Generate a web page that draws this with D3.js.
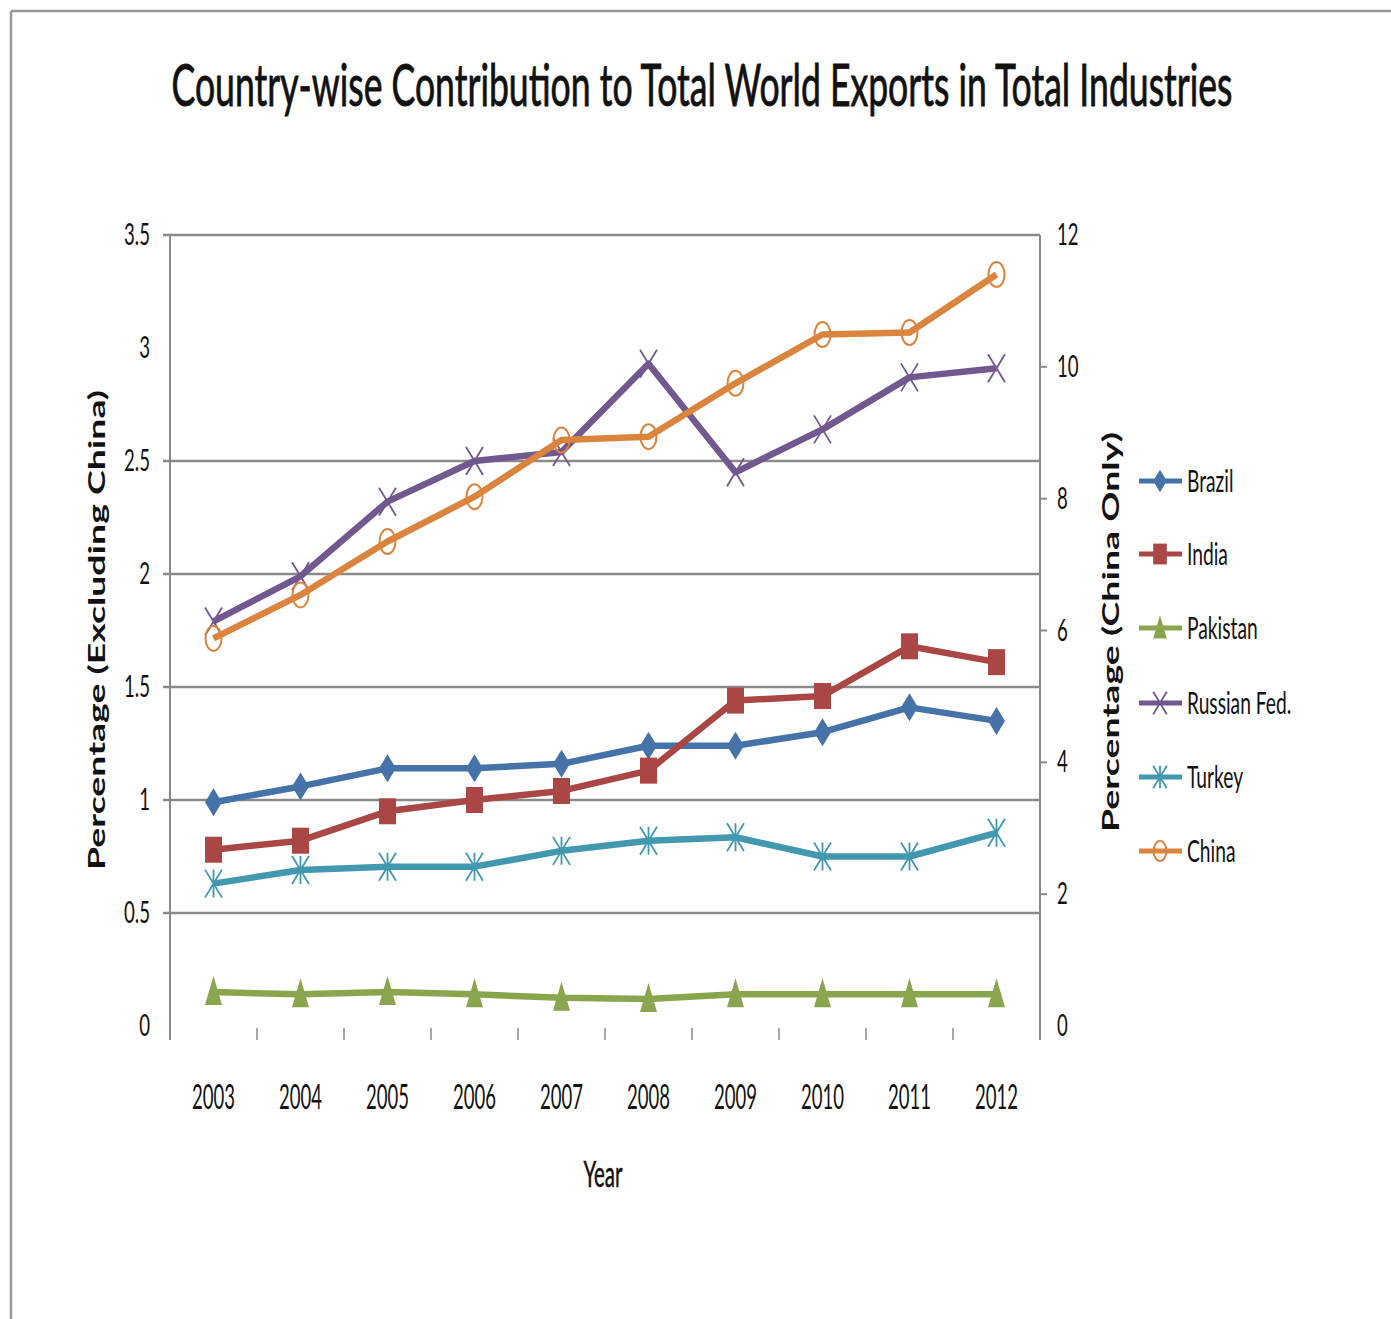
<!DOCTYPE html>
<html>
<head>
<meta charset="utf-8">
<script src="https://cdn.jsdelivr.net/npm/d3@7"></script>
<style>
  body { margin: 0; background: #fff; }
  text { font-family: Lato, "Open Sans", sans-serif; fill: #111; }
</style>
</head>
<body>
<svg id="chart" width="1391" height="1319"></svg>
<script>
// ---- data: share of total world exports (%) ----
const years = [2003, 2004, 2005, 2006, 2007, 2008, 2009, 2010, 2011, 2012];
const brazil   = [0.99, 1.06, 1.14, 1.14, 1.16, 1.24, 1.24, 1.30, 1.41, 1.35];
const india    = [0.78, 0.82, 0.95, 1.00, 1.04, 1.13, 1.44, 1.46, 1.68, 1.61];
const pakistan = [0.15, 0.14, 0.15, 0.14, 0.125, 0.12, 0.14, 0.14, 0.14, 0.14];
const russia   = [1.79, 1.99, 2.32, 2.50, 2.54, 2.93, 2.45, 2.64, 2.87, 2.91];
const turkey   = [0.63, 0.69, 0.705, 0.705, 0.775, 0.82, 0.835, 0.75, 0.75, 0.855];
const china    = [5.88, 6.54, 7.35, 8.03, 8.89, 8.94, 9.75, 10.49, 10.52, 11.40];

const leftTicks  = [0, 0.5, 1, 1.5, 2, 2.5, 3, 3.5];
const leftTickLabels = ["0", "0.5", "1", "1.5", "2", "2.5", "3", "3.5"];
const rightTicks = [0, 2, 4, 6, 8, 10, 12];
const gridValues = [0.5, 1, 1.5, 2, 2.5, 3.5];

const seriesNames  = ["Brazil", "India", "Pakistan", "Russian Fed.", "Turkey", "China"];
const seriesValues = [brazil, india, pakistan, russia, turkey, china];
const seriesAxis   = ["left", "left", "left", "left", "left", "right"];
const seriesColors = ["#4572A7", "#AA4643", "#89A54E", "#71588F", "#4198AF", "#DB843D"];
const seriesMarker = ["diamond", "square", "triangle", "cross", "asterisk", "circle"];

// ---- layout ----
const svg = d3.select("#chart");
const plot = { left: 170, right: 1040, top: 235, bottom: 1026 };
const gridColor = "#8a8a8a";

const x = d3.scaleBand().domain(years).range([plot.left, plot.right]).padding(0);
const cx = d => x(d) + x.bandwidth() / 2;
const yL = d3.scaleLinear().domain([0, 3.5]).range([plot.bottom, plot.top]);
const yR = d3.scaleLinear().domain([0, 12]).range([plot.bottom, plot.top]);

// squeeze text horizontally to a ratio of its natural width
function squeeze(sel, r) {
  sel.each(function () {
    const L = this.getComputedTextLength();
    this.setAttribute("textLength", L * r);
    this.setAttribute("lengthAdjust", "spacingAndGlyphs");
  });
}
function fitTo(sel, w) {
  sel.attr("textLength", w).attr("lengthAdjust", "spacingAndGlyphs");
}

// outer frame
svg.append("line").attr("x1", 11).attr("x2", 1391).attr("y1", 11).attr("y2", 11)
  .attr("stroke", "#9a9a9a").attr("stroke-width", 2.5);
svg.append("line").attr("x1", 11).attr("x2", 11).attr("y1", 11).attr("y2", 1319)
  .attr("stroke", "#9a9a9a").attr("stroke-width", 2.5);

// title, condensed horizontally to its full width
const titleG = svg.append("g");
const title = titleG.append("text")
  .attr("x", 0).attr("y", 0)
  .attr("text-anchor", "middle")
  .attr("font-size", 58)
  .attr("stroke", "#111").attr("stroke-width", 0.9)
  .text("Country-wise Contribution to Total World Exports in Total Industries");
const titleLen = title.node().getComputedTextLength();
titleG.attr("transform", `translate(702,106) scale(${1061 / titleLen},1)`);

// horizontal gridlines (extend left as tick marks)
svg.append("g").selectAll("line").data(gridValues).join("line")
  .attr("x1", plot.left - 7).attr("x2", plot.right)
  .attr("y1", d => yL(d)).attr("y2", d => yL(d))
  .attr("stroke", gridColor).attr("stroke-width", 2.5);

// left and right axis lines
svg.append("line").attr("x1", plot.left).attr("x2", plot.left)
  .attr("y1", plot.top).attr("y2", plot.bottom + 14)
  .attr("stroke", gridColor).attr("stroke-width", 2);
svg.append("line").attr("x1", plot.right).attr("x2", plot.right)
  .attr("y1", plot.top).attr("y2", plot.bottom + 14)
  .attr("stroke", gridColor).attr("stroke-width", 2);

// category tick marks below the plot
const edges = years.map(d => x(d)).concat([plot.right]);
svg.append("g").selectAll("line").data(edges).join("line")
  .attr("x1", d => d).attr("x2", d => d)
  .attr("y1", plot.bottom + 2).attr("y2", plot.bottom + 14)
  .attr("stroke", gridColor).attr("stroke-width", 1.5);

// right axis ticks
svg.append("g").selectAll("line").data(rightTicks.filter(d => d > 0 && d < 12)).join("line")
  .attr("x1", plot.right).attr("x2", plot.right + 7)
  .attr("y1", d => yR(d)).attr("y2", d => yR(d))
  .attr("stroke", gridColor).attr("stroke-width", 2);

// left tick labels
const lt = svg.append("g").selectAll("text").data(leftTicks).join("text")
  .attr("x", 150).attr("y", d => yL(d) + 10)
  .attr("text-anchor", "end").attr("font-size", 30)
  .text((d, i) => leftTickLabels[i]);
squeeze(lt, 0.62);

// right tick labels
const rt = svg.append("g").selectAll("text").data(rightTicks).join("text")
  .attr("x", 1057).attr("y", d => yR(d) + 10)
  .attr("text-anchor", "start").attr("font-size", 30)
  .text(d => d);
squeeze(rt, 0.62);

// year labels
const xt = svg.append("g").selectAll("text").data(years).join("text")
  .attr("x", d => cx(d)).attr("y", 1109)
  .attr("text-anchor", "middle").attr("font-size", 35)
  .text(d => d);
fitTo(xt, 43);

// axis titles
const xTitle = svg.append("text").attr("x", 603).attr("y", 1187)
  .attr("text-anchor", "middle").attr("font-size", 36)
  .attr("stroke", "#111").attr("stroke-width", 0.5).text("Year");
fitTo(xTitle, 39);

const yTitleL = svg.append("text")
  .attr("transform", "translate(105,630) rotate(-90)")
  .attr("text-anchor", "middle").attr("font-size", 22).attr("font-weight", 700)
  .attr("font-family", "'DejaVu Sans', sans-serif")
  .text("Percentage (Excluding China)");
fitTo(yTitleL, 480);

const yTitleR = svg.append("text")
  .attr("transform", "translate(1119,632) rotate(-90)")
  .attr("text-anchor", "middle").attr("font-size", 22).attr("font-weight", 700)
  .attr("font-family", "'DejaVu Sans', sans-serif")
  .text("Percentage (China Only)");
fitTo(yTitleR, 400);

// ---- marker drawing ----
function drawMarker(g, type, color, k) {
  const w = 8.5 * k, h = 14 * k;
  switch (type) {
    case "diamond":
      g.append("path").attr("d", `M0,${-h}L${w},0L0,${h}L${-w},0Z`).attr("fill", color);
      break;
    case "square":
      g.append("rect").attr("x", -w).attr("y", -13 * k).attr("width", 2 * w).attr("height", 26 * k)
        .attr("fill", color);
      break;
    case "triangle":
      g.append("path").attr("d", `M0,${-16 * k}L${w},${13 * k}L${-w},${13 * k}Z`).attr("fill", color);
      break;
    case "cross":
      g.append("path").attr("d", `M${-w},${-h}L${w},${h}M${w},${-h}L${-w},${h}`)
        .attr("stroke", color).attr("stroke-width", 1.8).attr("fill", "none");
      break;
    case "asterisk":
      g.append("path").attr("d", `M${-w},${-h}L${w},${h}M${w},${-h}L${-w},${h}M0,${-h}L0,${h}`)
        .attr("stroke", color).attr("stroke-width", 1.8).attr("fill", "none");
      break;
    case "circle":
      g.append("ellipse").attr("rx", 8 * k).attr("ry", 12.5 * k)
        .attr("fill", "none").attr("stroke", color).attr("stroke-width", 2);
      break;
  }
}

// ---- series lines and markers ----
seriesNames.forEach((name, i) => {
  const vals = seriesValues[i];
  const ys = seriesAxis[i] === "left" ? yL : yR;
  const pts = years.map((yr, j) => [cx(yr), ys(vals[j])]);
  const g = svg.append("g").attr("class", "series");
  g.append("path")
    .attr("d", d3.line()(pts))
    .attr("fill", "none")
    .attr("stroke", seriesColors[i])
    .attr("stroke-width", 6.5)
    .attr("stroke-linejoin", "round");
  pts.forEach(p => {
    const m = g.append("g").attr("transform", `translate(${p[0]},${p[1]})`);
    drawMarker(m, seriesMarker[i], seriesColors[i], 1);
  });
});

// ---- legend ----
const legendY = [481, 554, 628, 703, 777, 851];
seriesNames.forEach((name, i) => {
  const g = svg.append("g").attr("transform", `translate(0,${legendY[i]})`);
  g.append("line").attr("x1", 1139).attr("x2", 1182).attr("y1", 0).attr("y2", 0)
    .attr("stroke", seriesColors[i]).attr("stroke-width", 5);
  const m = g.append("g").attr("transform", "translate(1160,0)");
  drawMarker(m, seriesMarker[i], seriesColors[i], 0.8);
  const t = g.append("text").attr("x", 1187).attr("y", 11).attr("font-size", 31).text(name);
  squeeze(t, 0.62);
});
</script>
</body>
</html>
